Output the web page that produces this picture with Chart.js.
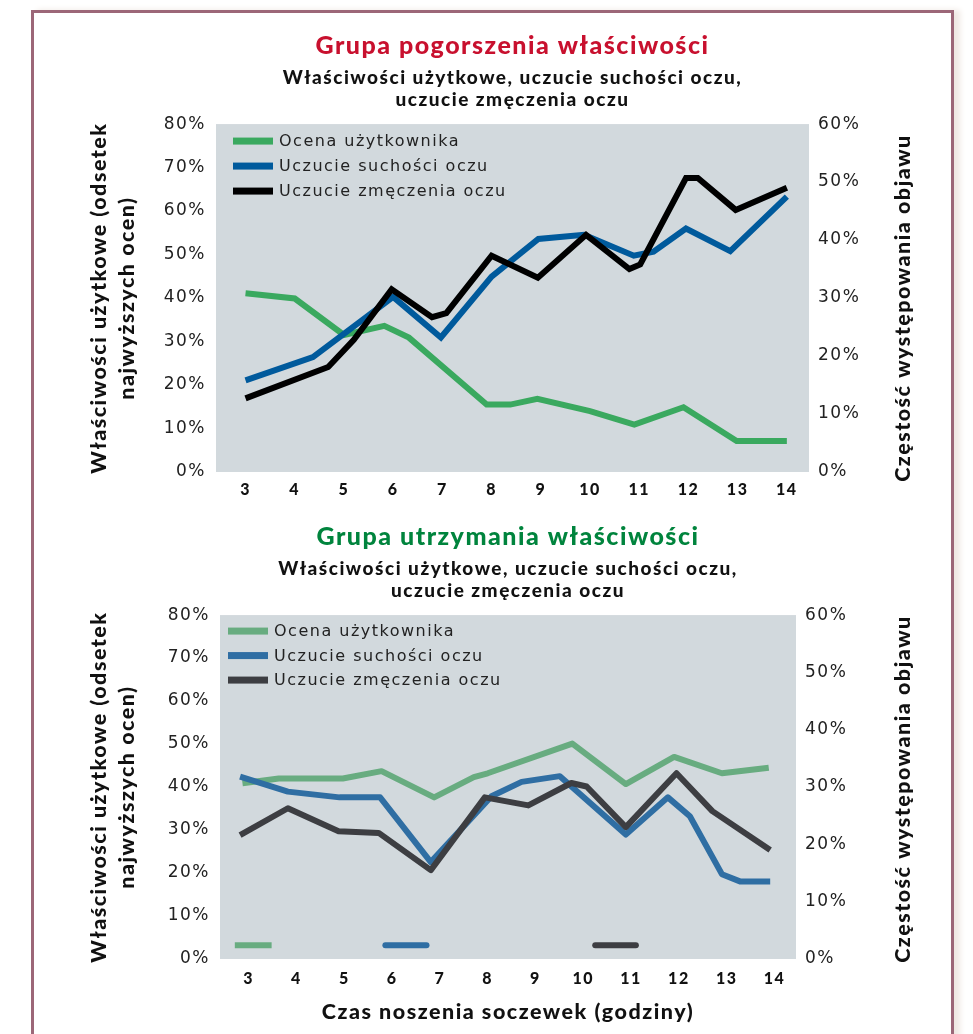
<!DOCTYPE html>
<html>
<head>
<meta charset="utf-8">
<script src="https://cdn.jsdelivr.net/npm/chart.js@4.4.1/dist/chart.umd.min.js"></script>
<style>
  body { margin: 0; background: #fff; width: 973px; height: 1034px; overflow: hidden; position: relative; }
  #frame { position: absolute; left: 31px; top: 10px; width: 917px; height: 1100px; border: 3px solid #9c6778; box-shadow: 6px 0 6px #efe8e3; }
  #c1 { position: absolute; left: 0; top: 0; }
  #c2 { position: absolute; left: 0; top: 505px; }
</style>
</head>
<body>
<div id="frame"></div>
<canvas id="c1" width="973" height="505"></canvas>
<canvas id="c2" width="973" height="529"></canvas>
<script>
// labels
const seriesNames = ['Ocena użytkownika', 'Uczucie suchości oczu', 'Uczucie zmęczenia oczu'];
const xTicks = [3, 4, 5, 6, 7, 8, 9, 10, 11, 12, 13, 14];
const leftTitle = ['Właściwości użytkowe (odsetek', 'najwyższych ocen)'];
const rightTitle = 'Częstość występowania objawu';
const subTitle = ['Właściwości użytkowe, uczucie suchości oczu,', 'uczucie zmęczenia oczu'];

// group 1 - "pogorszenia" (green on left axis, blue/black on right axis)
const topUserX = [3, 4, 5, 5.82, 6.32, 7.9, 8.38, 8.93, 10, 10.9, 11.9, 12.98, 14];
const topUserY = [41.1, 39.9, 31.5, 33.6, 30.9, 15.5, 15.5, 16.8, 14.0, 10.9, 14.9, 7.1, 7.1];
const topDryX = [3, 4.37, 6, 6.97, 8, 8.95, 9.88, 10.89, 11.29, 11.95, 12.85, 14];
const topDryY = [15.8, 19.8, 30.2, 23.2, 33.7, 40.2, 40.9, 37.3, 38.0, 42.0, 38.1, 47.5];
const topTiredX = [3, 4.68, 5.2, 5.97, 6.79, 7.08, 8, 8.94, 9.92, 10.8, 11.02, 11.95, 12.19, 12.96, 14];
const topTiredY = [12.7, 18.1, 22.8, 31.5, 26.7, 27.4, 37.3, 33.5, 40.9, 35.0, 35.8, 50.7, 50.7, 45.2, 49.0];

// group 2 - "utrzymania"
const botUserX = [2.87, 3.63, 4.97, 5.78, 6.88, 7.71, 8, 9.77, 10.89, 11.9, 12.9, 13.88];
const botUserY = [40.9, 42.0, 42.0, 43.7, 37.6, 42.3, 43.2, 50.1, 40.7, 47.0, 43.2, 44.5];
const botDryX = [2.82, 3.82, 4.9, 5.75, 6.81, 8.08, 8.71, 9.51, 10.89, 11.77, 12.23, 12.9, 13.29, 13.91];
const botDryY = [31.8, 29.2, 28.2, 28.2, 16.9, 28.4, 30.9, 31.9, 21.7, 28.2, 24.9, 14.8, 13.5, 13.5];
const botTiredX = [2.82, 3.82, 4.88, 5.72, 6.81, 7.94, 8.85, 9.75, 10.07, 10.89, 11.95, 12.7, 13.91];
const botTiredY = [21.6, 26.3, 22.3, 22.0, 15.5, 28.2, 26.8, 30.7, 30.1, 23.0, 32.4, 25.8, 19.0];
// short marks near the bottom of the second plot (left axis)
const botMarkUserX = [2.71, 3.48];
const botMarkDryX = [5.86, 6.72];
const botMarkTiredX = [10.25, 11.1];
const botMarkY = [3.2, 3.2];

function pts(xs, ys) {
    return xs.map(function (x, i) { return { x: x, y: ys[i] }; });
}

// the original typeface is wide, so widen all canvas text a bit
const wideText = {
    id: 'wideText',
    beforeUpdate(chart) { chart.ctx.letterSpacing = '1.5px'; },
    beforeDraw(chart) { chart.ctx.letterSpacing = '1.5px'; }
};

const plotBg = {
    id: 'plotBg',
    beforeDatasetsDraw(chart) {
        const a = chart.chartArea, ctx = chart.ctx;
        ctx.save();
        ctx.fillStyle = '#d2d9dd';
        ctx.fillRect(a.left, a.top, a.right - a.left, a.bottom - a.top);
        ctx.restore();
    }
};

const insideLegend = {
    id: 'insideLegend',
    afterDatasetsDraw(chart, args, opts) {
        const a = chart.chartArea, ctx = chart.ctx;
        ctx.save();
        ctx.font = '16px "DejaVu Sans"';
        ctx.textBaseline = 'middle';
        chart.data.datasets.slice(0, 3).forEach(function (ds, i) {
            const y = a.top + opts.top + i * opts.gap;
            ctx.fillStyle = ds.borderColor;
            ctx.fillRect(a.left + opts.left, y - 3.5, 40, 7);
            ctx.fillStyle = '#222';
            ctx.fillText(ds.label, a.left + opts.left + 46, y + 1);
        });
        ctx.restore();
    }
};

const rightAxisTitle = {
    id: 'rightAxisTitle',
    afterDraw(chart, args, opts) {
        const a = chart.chartArea, ctx = chart.ctx;
        ctx.save();
        ctx.translate(opts.x, (a.top + a.bottom) / 2 + opts.dy);
        ctx.rotate(-Math.PI / 2);
        ctx.font = '900 21.5px Lato';
        ctx.fillStyle = '#111';
        ctx.textAlign = 'center';
        ctx.textBaseline = 'middle';
        ctx.fillText(rightTitle, 0, 0);
        ctx.restore();
    }
};

function makeChart(id, cfg) {
    const datasets = [
        {
            label: seriesNames[0], data: pts(cfg.user[0], cfg.user[1]), yAxisID: 'y',
            borderColor: cfg.colors[0], borderWidth: 6, order: 3
        },
        {
            label: seriesNames[1], data: pts(cfg.dry[0], cfg.dry[1]), yAxisID: 'y1',
            borderColor: cfg.colors[1], borderWidth: 6, order: 2
        },
        {
            label: seriesNames[2], data: pts(cfg.tired[0], cfg.tired[1]), yAxisID: 'y1',
            borderColor: cfg.colors[2], borderWidth: 6, order: 1
        }
    ].concat(cfg.extra || []);
    datasets.forEach(function (ds) {
        ds.pointRadius = 0;
        ds.tension = 0;
        ds.fill = false;
        ds.borderJoinStyle = ds.borderJoinStyle || cfg.join;
        ds.borderCapStyle = ds.borderCapStyle || 'butt';
    });

    const noGrid = { display: false, drawTicks: false };

    return new Chart(document.getElementById(id), {
        type: 'line',
        data: { datasets: datasets },
        options: {
            responsive: false,
            animation: false,
            layout: { padding: 0 },
            plugins: {
                legend: { display: false },
                tooltip: { enabled: false },
                title: {
                    display: true, text: cfg.title, color: cfg.titleColor, fullSize: false,
                    font: { family: 'Lato', size: 25, weight: '900', lineHeight: 1.2 },
                    padding: { top: cfg.titleTop, bottom: 6 }
                },
                subtitle: {
                    display: true, text: subTitle, color: '#111', fullSize: false,
                    font: { family: 'Lato', size: 19, weight: '900', lineHeight: 1.16 },
                    padding: { top: 0, bottom: 13 }
                },
                insideLegend: cfg.legend,
                rightAxisTitle: { x: 903, dy: cfg.rightDy }
            },
            scales: {
                x: {
                    type: 'linear', min: 2.4, max: 14.45,
                    grid: noGrid, border: { display: false },
                    afterBuildTicks: function (s) { s.ticks = xTicks.map(function (v) { return { value: v }; }); },
                    afterFit: function (s) { s.height = cfg.xHeight; },
                    ticks: { color: '#111', padding: cfg.xPad, maxRotation: 0, font: { family: 'Lato', size: 16, weight: '900' } },
                    title: cfg.xTitle ? {
                        display: true, text: cfg.xTitle, color: '#111',
                        font: { family: 'Lato', size: 21.5, weight: '900', lineHeight: 1.4 },
                        padding: { top: 0, bottom: 7 }
                    } : { display: false }
                },
                y: {
                    position: 'left', min: 0, max: 80,
                    grid: noGrid, border: { display: false },
                    afterFit: function (s) { s.width = cfg.left; },
                    ticks: {
                        stepSize: 10, color: '#222', padding: 10,
                        font: { family: 'DejaVu Sans', size: 17 },
                        callback: function (v) { return v + '%'; }
                    },
                    title: {
                        display: true, text: leftTitle, color: '#111',
                        font: { family: 'Lato', size: 21.5, weight: '900', lineHeight: 1.3 },
                        padding: { top: 85 }
                    }
                },
                y1: {
                    position: 'right', min: 0, max: 60,
                    grid: noGrid, border: { display: false },
                    afterFit: function (s) { s.width = 973 - cfg.right; },
                    ticks: {
                        stepSize: 10, color: '#222', padding: 9,
                        font: { family: 'DejaVu Sans', size: 17 },
                        callback: function (v) { return v + '%'; }
                    }
                }
            }
        },
        plugins: [wideText, plotBg, insideLegend, rightAxisTitle]
    });
}

makeChart('c1', {
    title: 'Grupa pogorszenia właściwości', titleColor: '#c8102e', titleTop: 31,
    user: [topUserX, topUserY], dry: [topDryX, topDryY], tired: [topTiredX, topTiredY],
    colors: ['#3aa95f', '#005a9c', '#000000'],
    join: 'miter', left: 216, right: 809, xHeight: 33, xPad: 8, rightDy: 10,
    legend: { left: 17, top: 17, gap: 25 }
});

makeChart('c2', {
    title: 'Grupa utrzymania właściwości', titleColor: '#00843d', titleTop: 17,
    user: [botUserX, botUserY], dry: [botDryX, botDryY], tired: [botTiredX, botTiredY],
    colors: ['#68ac80', '#2f6ea3', '#3d3e42'],
    join: 'round', left: 220, right: 796, xHeight: 75, xPad: 10, rightDy: 2,
    xTitle: 'Czas noszenia soczewek (godziny)',
    legend: { left: 8, top: 16, gap: 24.5 },
    extra: [
        { label: '', data: pts(botMarkUserX, botMarkY), yAxisID: 'y', borderColor: '#68ac80', borderWidth: 6, borderCapStyle: 'butt' },
        { label: '', data: pts(botMarkDryX, botMarkY), yAxisID: 'y', borderColor: '#2f6ea3', borderWidth: 6, borderCapStyle: 'round' },
        { label: '', data: pts(botMarkTiredX, botMarkY), yAxisID: 'y', borderColor: '#3d3e42', borderWidth: 6, borderCapStyle: 'round' }
    ]
});
</script>
</body>
</html>
